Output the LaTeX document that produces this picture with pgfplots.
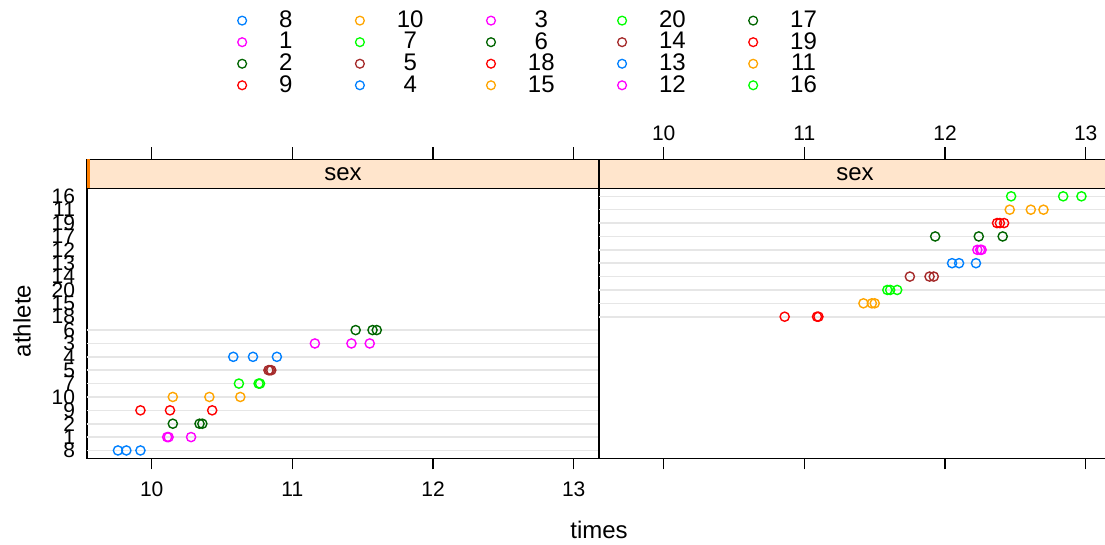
\documentclass[border=0pt]{standalone}
\usepackage{fontspec}
\setmainfont{Liberation Sans}
\usepackage{pgfplots}
\pgfplotsset{compat=1.18}
\definecolor{cBlue}{HTML}{0080FF}
\definecolor{cMag}{HTML}{FF00FF}
\definecolor{cDG}{HTML}{006400}
\definecolor{cRed}{HTML}{FF0000}
\definecolor{cOr}{HTML}{FFA500}
\definecolor{cGr}{HTML}{00FF00}
\definecolor{cBr}{HTML}{A52A2A}
\definecolor{stripbg}{HTML}{FFE5CC}
\definecolor{stripind}{HTML}{FF7F00}
\definecolor{refgray}{HTML}{E6E6E6}
\pgfplotsset{
  panel/.style={scale only axis, width=256pt, height=135.1pt, anchor=south west,
    xmin=9.54, xmax=13.18, ymin=0.4, ymax=20.6,
    axis line style={black, line width=0.6pt},
    tick style={black, line width=0.6pt},
    tick align=outside, major tick length=5.5pt,
    /pgf/number format/assume math mode=true,
    ticklabel style={font=\fontsize{10.5}{12}\selectfont}},
  strip/.style={scale only axis, width=256pt, height=14.5pt, anchor=south west,
    xmin=9.54, xmax=13.18, ymin=0, ymax=1,
    axis background/.style={fill=stripbg},
    axis line style={black, line width=0.6pt},
    tick style={black, line width=0.6pt},
    tick align=outside, major tick length=6pt,
    xtick={10,11,12,13}, xtick pos=right, ytick=\empty,
    /pgf/number format/assume math mode=true,
    ticklabel style={font=\fontsize{10.5}{12}\selectfont}},
  ath/.style={only marks, mark=o, mark size=2.3pt, line width=0.7pt, color=#1},
  lg/.style={mark=o, mark size=2.2pt, line width=0.65pt, color=#1},
}
\begin{document}
\begin{tikzpicture}
\useasboundingbox (0pt,0pt) rectangle (552.5pt,272.5pt);

% left panel
\begin{axis}[panel, at={(43.5pt,43.25pt)},
  xtick={10,11,12,13}, xticklabels={10,11,12,13}, xtick pos=left,
  xticklabel style={yshift=-2.5pt},
  ytick={1,...,20}, ytick pos=left, ytick style={draw=none},
  yticklabels={8,1,2,9,10,7,5,4,3,6,18,15,20,14,13,12,17,19,11,16},
  yticklabel style={xshift=3pt}]
\pgfplotsinvokeforeach{1,...,10}{\draw[refgray, line width=0.8pt] (axis cs:9.54,#1) -- (axis cs:13.18,#1);}
\addplot[ath=cBlue] coordinates {(9.76,1) (9.82,1) (9.92,1)};
\addplot[ath=cMag]  coordinates {(10.11,2) (10.12,2) (10.28,2)};
\addplot[ath=cDG]   coordinates {(10.15,3) (10.34,3) (10.36,3)};
\addplot[ath=cRed]  coordinates {(9.92,4) (10.13,4) (10.43,4)};
\addplot[ath=cOr]   coordinates {(10.15,5) (10.41,5) (10.63,5)};
\addplot[ath=cGr]   coordinates {(10.62,6) (10.76,6) (10.77,6)};
\addplot[ath=cBr]   coordinates {(10.83,7) (10.84,7) (10.85,7)};
\addplot[ath=cBlue] coordinates {(10.58,8) (10.72,8) (10.89,8)};
\addplot[ath=cMag]  coordinates {(11.16,9) (11.42,9) (11.55,9)};
\addplot[ath=cDG]   coordinates {(11.45,10) (11.57,10) (11.60,10)};
\end{axis}

% right panel
\begin{axis}[panel, at={(299.5pt,43.25pt)},
  xtick={10,11,12,13}, xticklabels={,,,}, xtick pos=left,
  ytick=\empty]
\pgfplotsinvokeforeach{11,...,20}{\draw[refgray, line width=0.8pt] (axis cs:9.54,#1) -- (axis cs:13.18,#1);}
\addplot[ath=cRed]  coordinates {(10.86,11) (11.09,11) (11.10,11)};
\addplot[ath=cOr]   coordinates {(11.42,12) (11.48,12) (11.50,12)};
\addplot[ath=cGr]   coordinates {(11.59,13) (11.61,13) (11.66,13)};
\addplot[ath=cBr]   coordinates {(11.75,14) (11.89,14) (11.92,14)};
\addplot[ath=cBlue] coordinates {(12.05,15) (12.10,15) (12.22,15)};
\addplot[ath=cMag]  coordinates {(12.23,16) (12.25,16) (12.26,16)};
\addplot[ath=cDG]   coordinates {(11.93,17) (12.24,17) (12.41,17)};
\addplot[ath=cRed]  coordinates {(12.37,18) (12.39,18) (12.42,18)};
\addplot[ath=cOr]   coordinates {(12.46,19) (12.61,19) (12.70,19)};
\addplot[ath=cGr]   coordinates {(12.47,20) (12.84,20) (12.97,20)};
\end{axis}

% strips
\begin{axis}[strip, at={(43.5pt,178.35pt)}, xticklabels={,,,}]
\fill[stripind] (rel axis cs:0,0) rectangle (rel axis cs:0.006,1);
\node[font=\fontsize{12}{14}\selectfont] at (rel axis cs:0.5,0.5) {sex};
\end{axis}
\begin{axis}[strip, at={(299.5pt,178.35pt)}, xticklabels={10,11,12,13}, xticklabel pos=right]
\node[font=\fontsize{12}{14}\selectfont] at (rel axis cs:0.5,0.5) {sex};
\end{axis}

% legend
\begin{axis}[hide axis, scale only axis, width=552.5pt, height=272.5pt, at={(0pt,0pt)}, anchor=south west,
  xmin=0, xmax=1, ymin=0, ymax=1,
  legend columns=5,
  legend image code/.code={\draw[#1] plot coordinates {(0pt,0pt)};},
  legend style={at={(0.2148,0.981)}, anchor=north west, draw=none, fill=none, inner sep=0pt,
    font=\fontsize{12}{14}\selectfont, row sep=0.9pt, nodes={inner sep=0pt},
    /tikz/every odd column/.append style={column sep=16.3pt},
    /tikz/every even column/.append style={column sep=31.5pt}}]
\addlegendimage{lg=cBlue}\addlegendentry{8}
\addlegendimage{lg=cOr}\addlegendentry{10\hspace{2pt}}
\addlegendimage{lg=cMag}\addlegendentry{3}
\addlegendimage{lg=cGr}\addlegendentry{20}
\addlegendimage{lg=cDG}\addlegendentry{17}
\addlegendimage{lg=cMag}\addlegendentry{1}
\addlegendimage{lg=cGr}\addlegendentry{7}
\addlegendimage{lg=cDG}\addlegendentry{6}
\addlegendimage{lg=cBr}\addlegendentry{14}
\addlegendimage{lg=cRed}\addlegendentry{19}
\addlegendimage{lg=cDG}\addlegendentry{2}
\addlegendimage{lg=cBr}\addlegendentry{5}
\addlegendimage{lg=cRed}\addlegendentry{18}
\addlegendimage{lg=cBlue}\addlegendentry{13}
\addlegendimage{lg=cOr}\addlegendentry{11}
\addlegendimage{lg=cRed}\addlegendentry{9}
\addlegendimage{lg=cBlue}\addlegendentry{4}
\addlegendimage{lg=cOr}\addlegendentry{15}
\addlegendimage{lg=cMag}\addlegendentry{12}
\addlegendimage{lg=cGr}\addlegendentry{16}
\end{axis}

\node[font=\fontsize{12}{14}\selectfont] at (299.5pt,7.5pt) {times};
\node[font=\fontsize{12}{14}\selectfont, rotate=90] at (11pt,112pt) {athlete};
\end{tikzpicture}
\end{document}
